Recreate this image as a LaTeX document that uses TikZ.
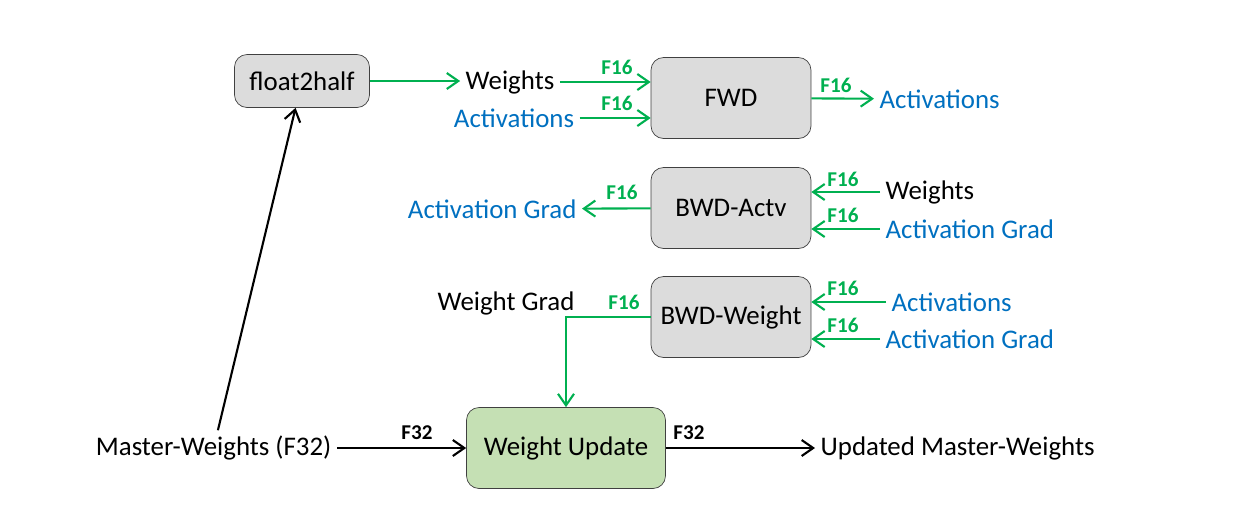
\documentclass[tikz,border=0pt]{standalone}
\usepackage{fontspec}
\setmainfont{Carlito}
\usetikzlibrary{arrows.meta}
\definecolor{ongreen}{HTML}{00B050}
\definecolor{onblue}{HTML}{0070C0}
\definecolor{boxgray}{HTML}{DCDCDC}
\definecolor{boxgreen}{HTML}{C5E0B4}
\tikzset{
    every node/.style={inner sep=3pt, font=\fontsize{15.3}{18}\selectfont},
    box/.style={draw=black!75, fill=boxgray, rounded corners=2.5mm},
    tag/.style={inner sep=0pt, font=\fontsize{12}{14}\selectfont\bfseries},
    blue/.style={text=onblue},
    garrow/.style={draw=ongreen, line width=1.2pt, -{Straight Barb[length=2.3mm, width=3.2mm]}},
    karrow/.style={draw=black, line width=1.2pt, -{Straight Barb[length=2.3mm, width=3.2mm]}}
}

\begin{document}
\begin{tikzpicture}[x=0.02cm, y=-0.02cm]
	\useasboundingbox (0,0) rectangle (1237,529);
	\node [box, minimum width=2.7cm, minimum height=1.06cm] (f) at (302,81) {float2half};
	\node [box, minimum width=3.2cm, minimum height=1.62cm] (a) at (731,98) {FWD};
	\node [box, minimum width=3.2cm, minimum height=1.62cm] (b) at (731,208) {BWD-Actv};
	\node [box, minimum width=3.2cm, minimum height=1.62cm] (c) at (731,317) {BWD-Weight};
	\node [box, fill=boxgreen, minimum width=3.98cm, minimum height=1.62cm] (u) at (566,448) {Weight Update};
	\node (a1) at (510,82) {Weights};
	\node [blue] (a2) at (514,118) {Activations};
	\node [blue, anchor=west] (a3) at (874,99) {Activations};
	\node [anchor=west] (b1) at (880,192) {Weights};
	\node [blue, anchor=west] (b2) at (880,229) {Activation Grad};
	\node [blue, anchor=east] (b3) at (582,209) {Activation Grad};
	\node [blue, anchor=west] (c1) at (886,302) {Activations};
	\node [blue, anchor=west] (c2) at (880,339) {Activation Grad};
	\node (c3) at (506,303) {Weight Grad};
	\node [anchor=east] (m) at (337,448) {Master-Weights (F32)};
	\node [anchor=west] (n) at (815,448) {Updated Master-Weights};
	\node [tag, text=ongreen] (1) at (617,67) {F16};
	\node [tag, text=ongreen] (2) at (617,103) {F16};
	\node [tag, text=ongreen] (3) at (836,85) {F16};
	\node [tag, text=ongreen] (4) at (843,179) {F16};
	\node [tag, text=ongreen] (5) at (843,215) {F16};
	\node [tag, text=ongreen] (6) at (622,192) {F16};
	\node [tag, text=ongreen] (7) at (843,288) {F16};
	\node [tag, text=ongreen] (8) at (843,325) {F16};
	\node [tag, text=ongreen] (9) at (624,302) {F16};
	\node [tag] (10) at (417,433) {F32};
	\node [tag] (11) at (689,433) {F32};
	\draw [garrow] (f.east) -- (a1.west |- f.east);
	\draw [garrow] (a1) -- (a.west |- a1); \draw [garrow] (a2) -- (a.west |- a2);
	\draw [garrow] (a) -- (a3);
	\draw [garrow] (b1) -- (b.east |- b1); \draw [garrow] (b2) -- (b.east |- b2);
	\draw [garrow] (b) -- (b3);
	\draw [garrow] (c1) -- (c.east |- c1); \draw [garrow] (c2) -- (c.east |- c2);
	\draw [garrow] (c.west) -| (u.north);
	\draw [karrow] (m) -- (f);
	\draw [karrow] (m) -- (u);
	\draw [karrow] (u) -- (n);
\end{tikzpicture}
\end{document}
